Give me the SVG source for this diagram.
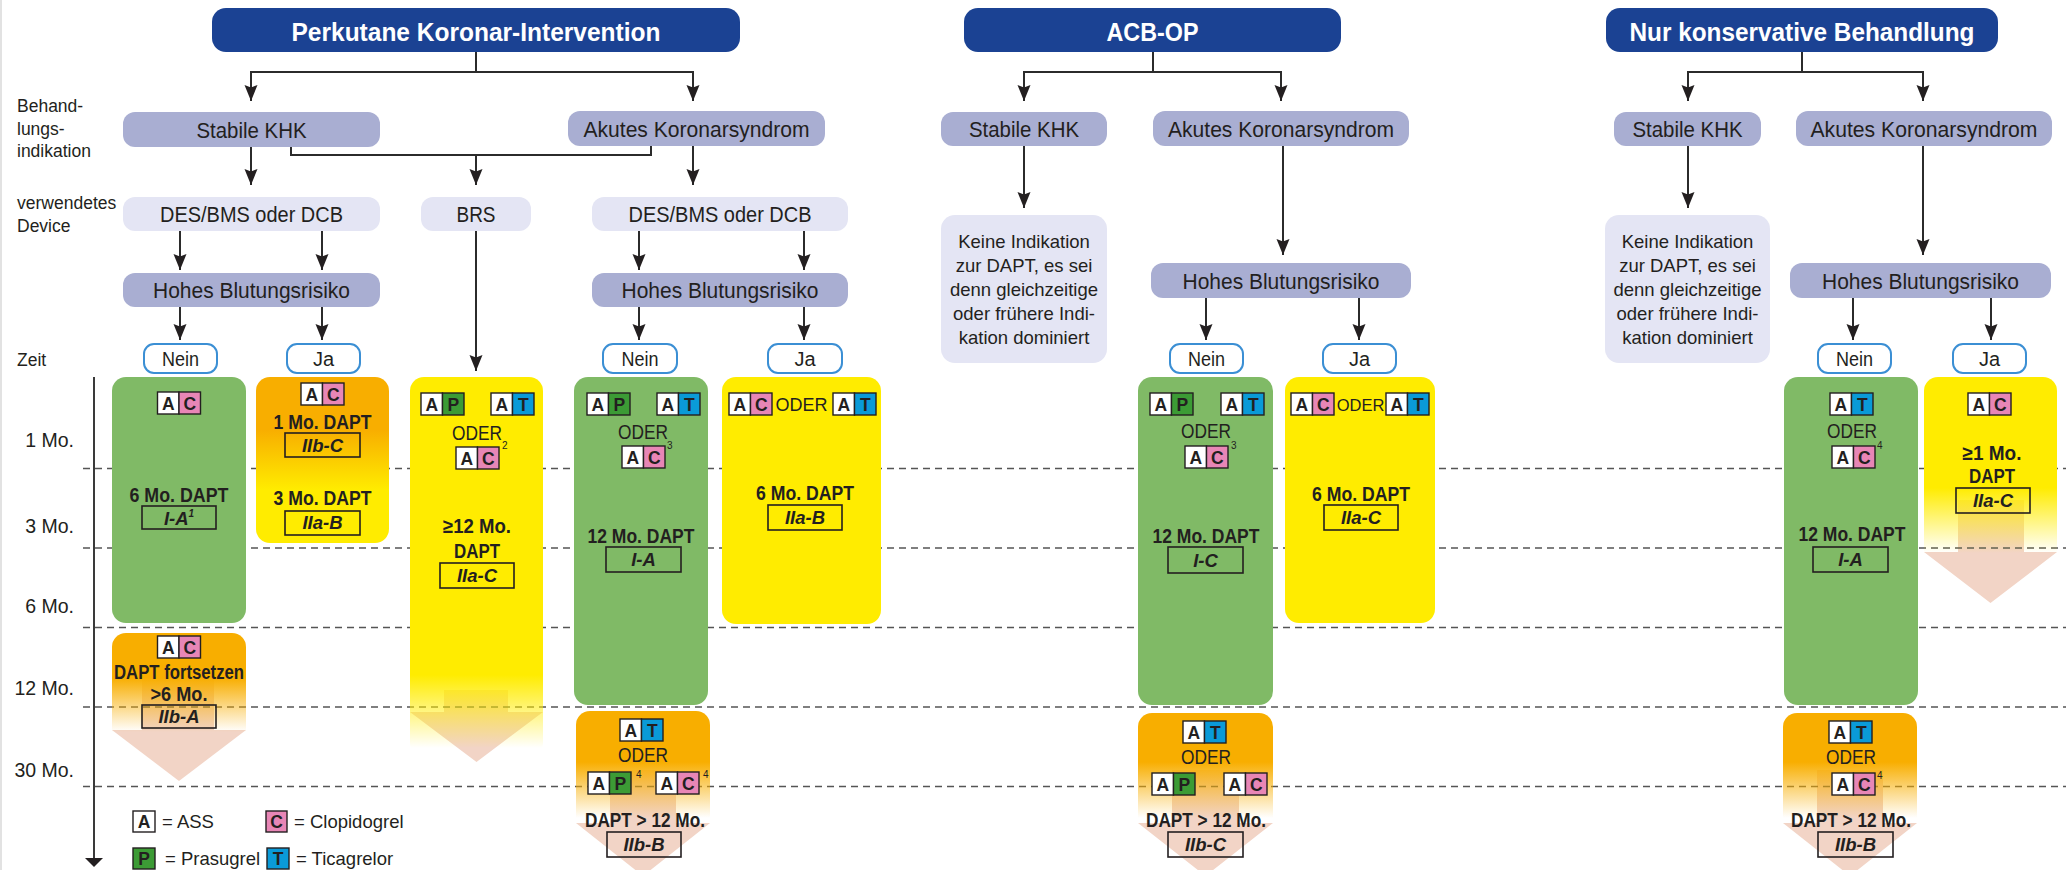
<svg xmlns="http://www.w3.org/2000/svg" width="2066" height="870" viewBox="0 0 2066 870">
<defs>
<style>
text{font-family:"Liberation Sans",Arial,Helvetica,sans-serif;fill:#231f20}
.nd{font-size:22px;text-anchor:middle}
.ti{font-size:26.5px;font-weight:700;fill:#fff;text-anchor:middle}
.lb{font-size:17.5px}
.tm{font-size:19.5px;text-anchor:end}
.yn{font-size:20px;text-anchor:middle}
.kt{font-size:18.5px;text-anchor:middle}
.dp{font-size:20px;font-weight:700;text-anchor:middle}
.cl{font-size:18.5px;font-weight:700;font-style:italic;text-anchor:middle}
.od{font-size:20px;text-anchor:middle}
.sp{font-size:10px}
.bt{font-size:17.5px;font-weight:700;text-anchor:middle}
.lg{font-size:18.5px}
.ttl{fill:#1b4293}
.n1{fill:#a9aed2}
.n2{fill:#e4e5f4}
.ynb{fill:#fff;stroke:#3b8fd4;stroke-width:2}
.gr{fill:#80ba66}
.ye{fill:#ffec00}
.pe{fill:#f2d4c6}
.cb{fill:none;stroke:#231f20;stroke-width:1.6}
.cw{fill:#fff;stroke:#231f20;stroke-width:1.4}
.cc{fill:#e886b6;stroke:#231f20;stroke-width:1.4}
.cp{fill:#3c9b35;stroke:#231f20;stroke-width:1.4}
.ct{fill:#0a9ad8;stroke:#231f20;stroke-width:1.4}
.cn{fill:none;stroke:#2b2b2b;stroke-width:2}
.ar{marker-end:url(#ah)}
.dl{stroke:#555;stroke-width:1.6;stroke-dasharray:7 5}
</style>
<marker id="ah" markerUnits="userSpaceOnUse" markerWidth="16" markerHeight="14" viewBox="0 0 16 14" refX="16" refY="7" orient="auto">
<path d="M0,0.5 L16,7 L0,13.5 L2.5,7 z" fill="#231f20"/>
</marker>
<linearGradient id="gOY" gradientUnits="userSpaceOnUse" x1="0" y1="430" x2="0" y2="490"><stop offset="0" stop-color="#f8ae00"/><stop offset="1" stop-color="#ffec00"/></linearGradient>
<linearGradient id="gFort" gradientUnits="userSpaceOnUse" x1="0" y1="678" x2="0" y2="732"><stop offset="0" stop-color="#f8ae00" stop-opacity="1"/><stop offset="1" stop-color="#f8ae00" stop-opacity="0"/></linearGradient>
<linearGradient id="gBRS" gradientUnits="userSpaceOnUse" x1="0" y1="675" x2="0" y2="748"><stop offset="0" stop-color="#ffec00" stop-opacity="1"/><stop offset="1" stop-color="#ffec00" stop-opacity="0"/></linearGradient>
<linearGradient id="gOrB" gradientUnits="userSpaceOnUse" x1="0" y1="762" x2="0" y2="818"><stop offset="0" stop-color="#f8ae00" stop-opacity="1"/><stop offset="1" stop-color="#f8ae00" stop-opacity="0"/></linearGradient>
<linearGradient id="gNJ" gradientUnits="userSpaceOnUse" x1="0" y1="488" x2="0" y2="553"><stop offset="0" stop-color="#ffec00" stop-opacity="1"/><stop offset="1" stop-color="#ffec00" stop-opacity="0"/></linearGradient>
</defs>
<rect width="2066" height="870" fill="#fff"/>
<line x1="1" y1="0" x2="1" y2="870" stroke="#e2e2e2" stroke-width="2"/>

<g id="row-labels">
<text class="lb" x="17" y="112">Behand-</text>
<text class="lb" x="17" y="135">lungs-</text>
<text class="lb" x="17" y="157">indikation</text>
<text class="lb" x="17" y="209">verwendetes</text>
<text class="lb" x="17" y="232">Device</text>
<text class="lb" x="17" y="366">Zeit</text>
</g>

<g id="continuation-arrows">
<polygon class="pe" points="142,680 214,680 214,730 246,730 179,781 112,730 142,730"/>
<polygon class="pe" points="444,690 508,690 508,712 543,712 476.5,762 410,712 444,712"/>
<polygon class="pe" points="610,770 676,770 676,823 710,823 643,876 576,823 610,823"/>
<polygon class="pe" points="1172,770 1239,770 1239,823 1273,823 1205.5,876 1138,823 1172,823"/>
<polygon class="pe" points="1817,770 1883,770 1883,823 1917,823 1850,876 1783,823 1817,823"/>
<polygon class="pe" points="1958,500 2024,500 2024,552 2057,552 1990.5,603 1924,552 1958,552"/>
</g>

<g id="time-axis">
<line class="dl" x1="83" y1="468.5" x2="2066" y2="468.5"/>
<line class="dl" x1="83" y1="548" x2="2066" y2="548"/>
<line class="dl" x1="83" y1="627.5" x2="2066" y2="627.5"/>
<line class="dl" x1="83" y1="707" x2="2066" y2="707"/>
<line class="dl" x1="83" y1="786.5" x2="2066" y2="786.5"/>
<line x1="94" y1="377" x2="94" y2="860" stroke="#3a3a3a" stroke-width="2"/>
<polygon points="85,858 103,858 94,867" fill="#231f20"/>
<text class="tm" x="74" y="447">1 Mo.</text>
<text class="tm" x="74" y="533">3 Mo.</text>
<text class="tm" x="74" y="613">6 Mo.</text>
<text class="tm" x="74" y="695">12 Mo.</text>
<text class="tm" x="74" y="777">30 Mo.</text>
</g>

<g id="connectors">
<path class="cn ar" d="M476,52 V72 H251 V101"/>
<path class="cn ar" d="M476,72 H693 V101"/>
<path class="cn ar" d="M251,147 V185"/>
<path class="cn" d="M291,147 V155 H651 V146"/>
<path class="cn ar" d="M476,155 V185"/>
<path class="cn ar" d="M693,146 V185"/>
<path class="cn ar" d="M180,231 V270"/>
<path class="cn ar" d="M322,231 V270"/>
<path class="cn ar" d="M180,307 V340"/>
<path class="cn ar" d="M322,307 V340"/>
<path class="cn ar" d="M476,231 V371"/>
<path class="cn ar" d="M639,231 V270"/>
<path class="cn ar" d="M804,231 V270"/>
<path class="cn ar" d="M639,307 V340"/>
<path class="cn ar" d="M804,307 V340"/>
<path class="cn ar" d="M1153,52 V72 H1024 V101"/>
<path class="cn ar" d="M1153,72 H1281 V101"/>
<path class="cn ar" d="M1024,146 V208"/>
<path class="cn ar" d="M1283,146 V255"/>
<path class="cn ar" d="M1206,298 V340"/>
<path class="cn ar" d="M1359,298 V340"/>
<path class="cn ar" d="M1802,52 V72 H1688 V101"/>
<path class="cn ar" d="M1802,72 H1923 V101"/>
<path class="cn ar" d="M1688,146 V208"/>
<path class="cn ar" d="M1923,146 V255"/>
<path class="cn ar" d="M1853,298 V340"/>
<path class="cn ar" d="M1991,298 V340"/>
</g>

<!-- PCI -->
<g id="pci-title"><rect class="ttl" x="212" y="8" width="528" height="44" rx="14"/><text class="ti" x="476" y="40.5" textLength="369" lengthAdjust="spacingAndGlyphs">Perkutane Koronar-Intervention</text></g>
<g id="pci-stabile"><rect class="n1" x="123" y="112" width="257" height="35" rx="12"/><text class="nd" x="251.5" y="137.5" textLength="110" lengthAdjust="spacingAndGlyphs">Stabile KHK</text></g>
<g id="pci-akut"><rect class="n1" x="568" y="111" width="257" height="35" rx="12"/><text class="nd" x="696.5" y="136.5" textLength="226" lengthAdjust="spacingAndGlyphs">Akutes Koronarsyndrom</text></g>
<g id="pci-des1"><rect class="n2" x="123" y="197" width="257" height="34" rx="12"/><text class="nd" x="251.5" y="222" textLength="183" lengthAdjust="spacingAndGlyphs">DES/BMS oder DCB</text></g>
<g id="pci-brs"><rect class="n2" x="421" y="197" width="110" height="34" rx="12"/><text class="nd" x="476" y="222" textLength="39" lengthAdjust="spacingAndGlyphs">BRS</text></g>
<g id="pci-des2"><rect class="n2" x="592" y="197" width="256" height="34" rx="12"/><text class="nd" x="720" y="222" textLength="183" lengthAdjust="spacingAndGlyphs">DES/BMS oder DCB</text></g>
<g id="pci-hbr1"><rect class="n1" x="123" y="273" width="257" height="34" rx="12"/><text class="nd" x="251.5" y="298" textLength="197" lengthAdjust="spacingAndGlyphs">Hohes Blutungsrisiko</text></g>
<g id="pci-hbr2"><rect class="n1" x="592" y="273" width="256" height="34" rx="12"/><text class="nd" x="720" y="298" textLength="197" lengthAdjust="spacingAndGlyphs">Hohes Blutungsrisiko</text></g>
<g id="pci-nein1"><rect class="ynb" x="144" y="344" width="73" height="29" rx="10"/><text class="yn" x="180.5" y="366" textLength="37" lengthAdjust="spacingAndGlyphs">Nein</text></g>
<g id="pci-ja1"><rect class="ynb" x="287" y="344" width="73" height="29" rx="10"/><text class="yn" x="323.5" y="366">Ja</text></g>
<g id="pci-nein2"><rect class="ynb" x="603" y="344" width="74" height="29" rx="10"/><text class="yn" x="640" y="366" textLength="37" lengthAdjust="spacingAndGlyphs">Nein</text></g>
<g id="pci-ja2"><rect class="ynb" x="768" y="344" width="74" height="29" rx="10"/><text class="yn" x="805" y="366">Ja</text></g>

<g id="pci-stabile-nein">
<rect class="gr" x="112" y="377" width="134" height="246" rx="14"/>
<g transform="translate(157.5,392)"><rect class="cw" width="21.5" height="22"/><rect class="cc" x="21.5" width="21.5" height="22"/><text class="bt" x="10.75" y="17.5">A</text><text class="bt" x="32.25" y="17.5">C</text></g>
<text class="dp" x="179" y="502" textLength="99" lengthAdjust="spacingAndGlyphs">6 Mo. DAPT</text>
<rect class="cb" x="142" y="506" width="74" height="23"/>
<text class="cl" x="179" y="525">I-A<tspan class="sp" dy="-8">1</tspan></text>
</g>

<g id="pci-stabile-ja">
<rect x="256" y="377" width="133" height="166" rx="14" fill="url(#gOY)"/>
<g transform="translate(301,383)"><rect class="cw" width="21.5" height="22"/><rect class="cc" x="21.5" width="21.5" height="22"/><text class="bt" x="10.75" y="17.5">A</text><text class="bt" x="32.25" y="17.5">C</text></g>
<text class="dp" x="322.5" y="429" textLength="98" lengthAdjust="spacingAndGlyphs">1 Mo. DAPT</text>
<rect class="cb" x="285" y="433" width="75" height="24"/>
<text class="cl" x="322.5" y="452">IIb-C</text>
<text class="dp" x="322.5" y="505" textLength="98" lengthAdjust="spacingAndGlyphs">3 Mo. DAPT</text>
<rect class="cb" x="285" y="511" width="75" height="24"/>
<text class="cl" x="322.5" y="529">IIa-B</text>
</g>

<g id="pci-stabile-fortsetzen">
<rect x="112" y="633" width="134" height="110" rx="14" fill="url(#gFort)"/>
<g transform="translate(157.5,636)"><rect class="cw" width="21.5" height="22"/><rect class="cc" x="21.5" width="21.5" height="22"/><text class="bt" x="10.75" y="17.5">A</text><text class="bt" x="32.25" y="17.5">C</text></g>
<text class="dp" x="179" y="679" textLength="130" lengthAdjust="spacingAndGlyphs">DAPT fortsetzen</text>
<text class="dp" x="179" y="701" textLength="57" lengthAdjust="spacingAndGlyphs">&gt;6 Mo.</text>
<rect class="cb" x="142" y="705" width="74" height="23"/>
<text class="cl" x="179" y="723">IIb-A</text>
</g>

<g id="pci-brs-dapt">
<rect x="410" y="377" width="133" height="380" rx="14" fill="url(#gBRS)"/>
<g transform="translate(421,393)"><rect class="cw" width="21.5" height="22"/><rect class="cp" x="21.5" width="21.5" height="22"/><text class="bt" x="10.75" y="17.5">A</text><text class="bt" x="32.25" y="17.5">P</text></g>
<g transform="translate(491,393)"><rect class="cw" width="21.5" height="22"/><rect class="ct" x="21.5" width="21.5" height="22"/><text class="bt" x="10.75" y="17.5">A</text><text class="bt" x="32.25" y="17.5">T</text></g>
<text class="od" x="477" y="440" textLength="50" lengthAdjust="spacingAndGlyphs">ODER</text>
<g transform="translate(456,447)"><rect class="cw" width="21.5" height="22"/><rect class="cc" x="21.5" width="21.5" height="22"/><text class="bt" x="10.75" y="17.5">A</text><text class="bt" x="32.25" y="17.5">C</text></g>
<text class="sp" x="502" y="449">2</text>
<text class="dp" x="477" y="533" textLength="68" lengthAdjust="spacingAndGlyphs">≥12 Mo.</text>
<text class="dp" x="477" y="558" textLength="46" lengthAdjust="spacingAndGlyphs">DAPT</text>
<rect class="cb" x="440" y="563" width="74" height="25"/>
<text class="cl" x="477" y="582">IIa-C</text>
</g>

<g id="pci-akut-nein">
<rect class="gr" x="574" y="377" width="134" height="328" rx="14"/>
<g transform="translate(587,393)"><rect class="cw" width="21.5" height="22"/><rect class="cp" x="21.5" width="21.5" height="22"/><text class="bt" x="10.75" y="17.5">A</text><text class="bt" x="32.25" y="17.5">P</text></g>
<g transform="translate(657,393)"><rect class="cw" width="21.5" height="22"/><rect class="ct" x="21.5" width="21.5" height="22"/><text class="bt" x="10.75" y="17.5">A</text><text class="bt" x="32.25" y="17.5">T</text></g>
<text class="od" x="643" y="439" textLength="50" lengthAdjust="spacingAndGlyphs">ODER</text>
<g transform="translate(622,446)"><rect class="cw" width="21.5" height="22"/><rect class="cc" x="21.5" width="21.5" height="22"/><text class="bt" x="10.75" y="17.5">A</text><text class="bt" x="32.25" y="17.5">C</text></g>
<text class="sp" x="667" y="449">3</text>
<text class="dp" x="641" y="543" textLength="107" lengthAdjust="spacingAndGlyphs">12 Mo. DAPT</text>
<rect class="cb" x="606" y="547" width="75" height="25"/>
<text class="cl" x="643.5" y="566">I-A</text>
</g>

<g id="pci-akut-ja">
<rect class="ye" x="722" y="377" width="159" height="247" rx="14"/>
<g transform="translate(729,393)"><rect class="cw" width="21.5" height="22"/><rect class="cc" x="21.5" width="21.5" height="22"/><text class="bt" x="10.75" y="17.5">A</text><text class="bt" x="32.25" y="17.5">C</text></g>
<text class="od" x="801.5" y="411" style="font-size:18px">ODER</text>
<g transform="translate(833,393)"><rect class="cw" width="21.5" height="22"/><rect class="ct" x="21.5" width="21.5" height="22"/><text class="bt" x="10.75" y="17.5">A</text><text class="bt" x="32.25" y="17.5">T</text></g>
<text class="dp" x="805" y="500" textLength="98" lengthAdjust="spacingAndGlyphs">6 Mo. DAPT</text>
<rect class="cb" x="768" y="505" width="74" height="25"/>
<text class="cl" x="805" y="524">IIa-B</text>
</g>

<g id="pci-akut-langzeit">
<rect x="576" y="711" width="134" height="170" rx="14" fill="url(#gOrB)"/>
<g transform="translate(620,719)"><rect class="cw" width="21.5" height="22"/><rect class="ct" x="21.5" width="21.5" height="22"/><text class="bt" x="10.75" y="17.5">A</text><text class="bt" x="32.25" y="17.5">T</text></g>
<text class="od" x="643" y="762" textLength="50" lengthAdjust="spacingAndGlyphs">ODER</text>
<g transform="translate(588,772)"><rect class="cw" width="21.5" height="22"/><rect class="cp" x="21.5" width="21.5" height="22"/><text class="bt" x="10.75" y="17.5">A</text><text class="bt" x="32.25" y="17.5">P</text></g>
<text class="sp" x="636" y="778">4</text>
<g transform="translate(656,772)"><rect class="cw" width="21.5" height="22"/><rect class="cc" x="21.5" width="21.5" height="22"/><text class="bt" x="10.75" y="17.5">A</text><text class="bt" x="32.25" y="17.5">C</text></g>
<text class="sp" x="703" y="778">4</text>
<text class="dp" x="645" y="827" textLength="120" lengthAdjust="spacingAndGlyphs">DAPT &gt; 12 Mo.</text>
<rect class="cb" x="607" y="832" width="74" height="25"/>
<text class="cl" x="644" y="851">IIb-B</text>
</g>

<!-- ACB-OP -->
<g id="acb-title"><rect class="ttl" x="964" y="8" width="377" height="44" rx="14"/><text class="ti" x="1152.5" y="40.5" textLength="92" lengthAdjust="spacingAndGlyphs">ACB-OP</text></g>
<g id="acb-stabile"><rect class="n1" x="941" y="112" width="166" height="34" rx="12"/><text class="nd" x="1024" y="137" textLength="110" lengthAdjust="spacingAndGlyphs">Stabile KHK</text></g>
<g id="acb-akut"><rect class="n1" x="1153" y="111" width="256" height="35" rx="12"/><text class="nd" x="1281" y="136.5" textLength="226" lengthAdjust="spacingAndGlyphs">Akutes Koronarsyndrom</text></g>
<g id="acb-keine"><rect class="n2" x="941" y="215" width="166" height="148" rx="14"/>
<text class="kt" x="1024" y="248">Keine Indikation</text>
<text class="kt" x="1024" y="272">zur DAPT, es sei</text>
<text class="kt" x="1024" y="296">denn gleichzeitige</text>
<text class="kt" x="1024" y="320">oder frühere Indi-</text>
<text class="kt" x="1024" y="344">kation dominiert</text></g>
<g id="acb-hbr"><rect class="n1" x="1151" y="263" width="260" height="35" rx="12"/><text class="nd" x="1281" y="288.5" textLength="197" lengthAdjust="spacingAndGlyphs">Hohes Blutungsrisiko</text></g>
<g id="acb-nein"><rect class="ynb" x="1170" y="344" width="73" height="29" rx="10"/><text class="yn" x="1206.5" y="366" textLength="37" lengthAdjust="spacingAndGlyphs">Nein</text></g>
<g id="acb-ja"><rect class="ynb" x="1323" y="344" width="73" height="29" rx="10"/><text class="yn" x="1359.5" y="366">Ja</text></g>

<g id="acb-akut-nein">
<rect class="gr" x="1138" y="377" width="135" height="328" rx="14"/>
<g transform="translate(1150,393)"><rect class="cw" width="21.5" height="22"/><rect class="cp" x="21.5" width="21.5" height="22"/><text class="bt" x="10.75" y="17.5">A</text><text class="bt" x="32.25" y="17.5">P</text></g>
<g transform="translate(1221,393)"><rect class="cw" width="21.5" height="22"/><rect class="ct" x="21.5" width="21.5" height="22"/><text class="bt" x="10.75" y="17.5">A</text><text class="bt" x="32.25" y="17.5">T</text></g>
<text class="od" x="1206" y="438" textLength="50" lengthAdjust="spacingAndGlyphs">ODER</text>
<g transform="translate(1185,446)"><rect class="cw" width="21.5" height="22"/><rect class="cc" x="21.5" width="21.5" height="22"/><text class="bt" x="10.75" y="17.5">A</text><text class="bt" x="32.25" y="17.5">C</text></g>
<text class="sp" x="1231" y="449">3</text>
<text class="dp" x="1206" y="543" textLength="107" lengthAdjust="spacingAndGlyphs">12 Mo. DAPT</text>
<rect class="cb" x="1168" y="547" width="75" height="26"/>
<text class="cl" x="1205.5" y="567">I-C</text>
</g>

<g id="acb-akut-ja">
<rect class="ye" x="1285" y="377" width="150" height="246" rx="14"/>
<g transform="translate(1291,393)"><rect class="cw" width="21.5" height="22"/><rect class="cc" x="21.5" width="21.5" height="22"/><text class="bt" x="10.75" y="17.5">A</text><text class="bt" x="32.25" y="17.5">C</text></g>
<text class="od" x="1360.5" y="410.5" style="font-size:16.5px">ODER</text>
<g transform="translate(1386,393)"><rect class="cw" width="21.5" height="22"/><rect class="ct" x="21.5" width="21.5" height="22"/><text class="bt" x="10.75" y="17.5">A</text><text class="bt" x="32.25" y="17.5">T</text></g>
<text class="dp" x="1361" y="501" textLength="98" lengthAdjust="spacingAndGlyphs">6 Mo. DAPT</text>
<rect class="cb" x="1324" y="505" width="74" height="25"/>
<text class="cl" x="1361" y="524">IIa-C</text>
</g>

<g id="acb-akut-langzeit">
<rect x="1138" y="713" width="135" height="170" rx="14" fill="url(#gOrB)"/>
<g transform="translate(1183,721)"><rect class="cw" width="21.5" height="22"/><rect class="ct" x="21.5" width="21.5" height="22"/><text class="bt" x="10.75" y="17.5">A</text><text class="bt" x="32.25" y="17.5">T</text></g>
<text class="od" x="1206" y="764" textLength="50" lengthAdjust="spacingAndGlyphs">ODER</text>
<g transform="translate(1152,773)"><rect class="cw" width="21.5" height="22"/><rect class="cp" x="21.5" width="21.5" height="22"/><text class="bt" x="10.75" y="17.5">A</text><text class="bt" x="32.25" y="17.5">P</text></g>
<g transform="translate(1224,773)"><rect class="cw" width="21.5" height="22"/><rect class="cc" x="21.5" width="21.5" height="22"/><text class="bt" x="10.75" y="17.5">A</text><text class="bt" x="32.25" y="17.5">C</text></g>
<text class="dp" x="1206" y="827" textLength="120" lengthAdjust="spacingAndGlyphs">DAPT &gt; 12 Mo.</text>
<rect class="cb" x="1168" y="832" width="75" height="25"/>
<text class="cl" x="1205.5" y="851">IIb-C</text>
</g>

<!-- Nur konservativ -->
<g id="kons-title"><rect class="ttl" x="1606" y="8" width="392" height="44" rx="14"/><text class="ti" x="1802" y="40.5" textLength="345" lengthAdjust="spacingAndGlyphs">Nur konservative Behandlung</text></g>
<g id="kons-stabile"><rect class="n1" x="1614" y="112" width="147" height="34" rx="12"/><text class="nd" x="1687.5" y="137" textLength="110" lengthAdjust="spacingAndGlyphs">Stabile KHK</text></g>
<g id="kons-akut"><rect class="n1" x="1796" y="111" width="256" height="35" rx="12"/><text class="nd" x="1924" y="136.5" textLength="227" lengthAdjust="spacingAndGlyphs">Akutes Koronarsyndrom</text></g>
<g id="kons-keine"><rect class="n2" x="1605" y="215" width="165" height="148" rx="14"/>
<text class="kt" x="1687.5" y="248">Keine Indikation</text>
<text class="kt" x="1687.5" y="272">zur DAPT, es sei</text>
<text class="kt" x="1687.5" y="296">denn gleichzeitige</text>
<text class="kt" x="1687.5" y="320">oder frühere Indi-</text>
<text class="kt" x="1687.5" y="344">kation dominiert</text></g>
<g id="kons-hbr"><rect class="n1" x="1790" y="263" width="261" height="35" rx="12"/><text class="nd" x="1920.5" y="288.5" textLength="197" lengthAdjust="spacingAndGlyphs">Hohes Blutungsrisiko</text></g>
<g id="kons-nein"><rect class="ynb" x="1818" y="344" width="73" height="29" rx="10"/><text class="yn" x="1854.5" y="366" textLength="37" lengthAdjust="spacingAndGlyphs">Nein</text></g>
<g id="kons-ja"><rect class="ynb" x="1953" y="344" width="73" height="29" rx="10"/><text class="yn" x="1989.5" y="366">Ja</text></g>

<g id="kons-akut-nein">
<rect class="gr" x="1784" y="377" width="134" height="328" rx="14"/>
<g transform="translate(1830,393)"><rect class="cw" width="21.5" height="22"/><rect class="ct" x="21.5" width="21.5" height="22"/><text class="bt" x="10.75" y="17.5">A</text><text class="bt" x="32.25" y="17.5">T</text></g>
<text class="od" x="1852" y="438" textLength="50" lengthAdjust="spacingAndGlyphs">ODER</text>
<g transform="translate(1832,446)"><rect class="cw" width="21.5" height="22"/><rect class="cc" x="21.5" width="21.5" height="22"/><text class="bt" x="10.75" y="17.5">A</text><text class="bt" x="32.25" y="17.5">C</text></g>
<text class="sp" x="1877" y="449">4</text>
<text class="dp" x="1852" y="541" textLength="107" lengthAdjust="spacingAndGlyphs">12 Mo. DAPT</text>
<rect class="cb" x="1813" y="547" width="75" height="25"/>
<text class="cl" x="1850.5" y="566">I-A</text>
</g>

<g id="kons-akut-ja">
<rect x="1924" y="377" width="133" height="200" rx="14" fill="url(#gNJ)"/>
<g transform="translate(1968,393)"><rect class="cw" width="21.5" height="22"/><rect class="cc" x="21.5" width="21.5" height="22"/><text class="bt" x="10.75" y="17.5">A</text><text class="bt" x="32.25" y="17.5">C</text></g>
<text class="dp" x="1992" y="460" textLength="59" lengthAdjust="spacingAndGlyphs">≥1 Mo.</text>
<text class="dp" x="1992" y="483" textLength="46" lengthAdjust="spacingAndGlyphs">DAPT</text>
<rect class="cb" x="1956" y="488" width="74" height="25"/>
<text class="cl" x="1993" y="507">IIa-C</text>
</g>

<g id="kons-akut-langzeit">
<rect x="1783" y="713" width="134" height="170" rx="14" fill="url(#gOrB)"/>
<g transform="translate(1829,721)"><rect class="cw" width="21.5" height="22"/><rect class="ct" x="21.5" width="21.5" height="22"/><text class="bt" x="10.75" y="17.5">A</text><text class="bt" x="32.25" y="17.5">T</text></g>
<text class="od" x="1851" y="764" textLength="50" lengthAdjust="spacingAndGlyphs">ODER</text>
<g transform="translate(1832,773)"><rect class="cw" width="21.5" height="22"/><rect class="cc" x="21.5" width="21.5" height="22"/><text class="bt" x="10.75" y="17.5">A</text><text class="bt" x="32.25" y="17.5">C</text></g>
<text class="sp" x="1877" y="779">4</text>
<text class="dp" x="1851" y="827" textLength="120" lengthAdjust="spacingAndGlyphs">DAPT &gt; 12 Mo.</text>
<rect class="cb" x="1818" y="832" width="75" height="25"/>
<text class="cl" x="1855.5" y="851">IIb-B</text>
</g>

<g id="legend">
<rect class="cw" x="133" y="811" width="22" height="21"/><text class="bt" x="144" y="828">A</text>
<text class="lg" x="162" y="828">= ASS</text>
<rect class="cc" x="266" y="811" width="21" height="21"/><text class="bt" x="276.5" y="828">C</text>
<text class="lg" x="294" y="828">= Clopidogrel</text>
<rect class="cp" x="133" y="848" width="22" height="21"/><text class="bt" x="144" y="865">P</text>
<text class="lg" x="165" y="865">= Prasugrel</text>
<rect class="ct" x="267" y="848" width="22" height="21"/><text class="bt" x="278" y="865">T</text>
<text class="lg" x="296" y="865">= Ticagrelor</text>
</g>
</svg>
